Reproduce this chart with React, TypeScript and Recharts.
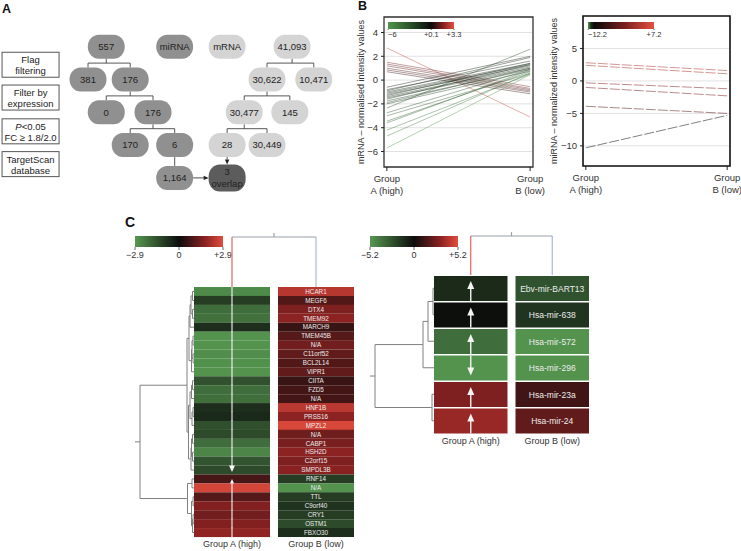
import React from "react";
import {
  Bar,
  BarChart,
  CartesianGrid,
  Cell,
  LabelList,
  Line,
  LineChart,
  ReferenceArea,
  ReferenceLine,
  Scatter,
  ScatterChart,
  XAxis,
  YAxis,
} from "recharts";

const FONT = '"Liberation Sans", Arial, Helvetica, sans-serif';
const INK = "#333";

// ---------- A: filtering flow ----------
const stepLines = [
  ["Flag", "filtering"],
  ["Filter by", "expression"],
  ["P<0.05", "FC ≥ 1.8/2.0"],
  ["TargetScan", "database"],
];
const stepRows = [0.55, 1.55, 2.58, 3.58];
const stepCol = -2.52;

const nodeLabels = ["557", "miRNA", "mRNA", "41,093", "381", "176", "30,622", "10,471", "0", "176", "30,477", "145", "170", "6", "28", "30,449", "1,164", "3 overlap"];
const nodeCols = [0.8, 3.8, 6.1, 8.95, 0, 1.85, 7.85, 9.9, 0.8, 2.85, 6.85, 8.85, 1.85, 3.8, 6.1, 7.85, 3.8, 6.1];
const nodeRows = [0, 0, 0, 0, 1, 1, 1, 1, 2, 2, 2, 2, 3, 3, 3, 3, 4, 4];
const nodeTones = ["mi", "mi", "m", "m", "mi", "mi", "m", "m", "mi", "mi", "m", "m", "mi", "mi", "m", "m", "mi", "both"];
const treeEdges: [number, number[]][] = [
  [0, [4, 5]],
  [5, [8, 9]],
  [9, [12, 13]],
  [13, [16]],
  [3, [6, 7]],
  [6, [10, 11]],
  [10, [14, 15]],
];
const arrowEdges: [number, number][] = [
  [16, 17],
  [14, 17],
];

// ---------- B: intensity lines ----------
const groupTickLines = [
  ["Group", "A (high)"],
  ["Group", "B (low)"],
];
const mrnaA = [2.7, 1.5, 1.35, 1.2, 1.0, 0.85, 0.7, -0.6, -0.8, -0.9, -1.0, -1.1, -1.2, -1.3, -1.4, -1.5, -1.6, -1.75, -1.9, -2.0, -2.35, -2.75, -3.0, -3.45, -3.6, -4.2, -4.7, -5.7];
const mrnaB = [-3.1, -0.55, -0.7, -0.8, -0.9, -1.0, -1.15, 2.0, 1.6, 1.9, 1.4, 1.3, 1.2, 1.4, 1.1, 1.0, 1.3, 0.9, 1.0, 0.75, 2.6, 0.9, 0.55, 0.7, 0.85, 0.5, 0.6, 0.45];
const mrnaTicks = [-6, -4, -2, 0, 2, 4];
const mrnaScaleTicks = [-6, 0.1, 3.3];

const mirnaA = [2.8, 2.4, -0.3, -1.0, -3.9, -10.3];
const mirnaB = [1.6, 1.1, -1.2, -2.3, -5.0, -5.3];
const mirnaTicks = [-10, -5, 0, 5];
const mirnaScaleTicks = [-12.2, 7.2];

// ---------- C: heatmaps ----------
const heatGroups = ["Group A (high)", "Group B (low)"];
const geneNames = ["HCAR1", "MEGF6", "DTX4", "TMEM92", "MARCH9", "TMEM45B", "N/A", "C11orf52", "BCL2L14", "VIPR1", "CIITA", "FZD5", "N/A", "HNF1B", "PRSS16", "MPZL2", "N/A", "CABP1", "HSH2D", "C2orf15", "SMPDL3B", "RNF14", "N/A", "TTL", "C9orf40", "CRY1", "OSTM1", "FBXO30"];
const geneA = [-2.6, -1.0, -2.0, -2.1, -0.7, -2.8, -2.8, -2.7, -2.75, -2.8, -1.45, -2.0, -2.05, -0.7, -0.6, -1.4, -1.3, -2.0, -2.5, -1.5, -1.3, 0.8, 2.7, 1.0, 1.6, 1.4, 1.6, 1.8];
const geneB = [2.3, 0.95, 1.55, 1.75, 0.6, 1.0, 1.4, 1.15, 0.95, 1.15, 0.6, 0.75, 0.75, 2.35, 1.75, 2.75, 1.35, 1.5, 1.75, 1.55, 1.7, -1.0, -2.8, -1.0, -0.8, -1.0, -1.3, -0.7];
const geneArrows = ["line", "line", "line", "line", "line", "line", "line", "line", "line", "line", "line", "line", "line", "line", "line", "line", "line", "line", "line", "line", "down", "up", "line", "line", "line", "line", "line", "line"];
const geneMax = 2.9;
const geneMerges: [number, number, number][] = [
  [0, 1, 1.5], [2, 3, 1.5], [28, 29, 3], [30, 4, 4],
  [5, 6, 1], [7, 8, 1], [32, 33, 2], [34, 9, 2.5], [31, 35, 5],
  [10, 11, 1.5], [37, 12, 2.5], [13, 14, 1], [39, 15, 2], [38, 40, 4],
  [16, 17, 1.5], [18, 19, 1.5], [42, 43, 2.5], [44, 20, 3], [41, 45, 5.5], [36, 46, 7],
  [21, 22, 2], [23, 24, 1], [25, 26, 1], [50, 27, 1.5], [49, 51, 2.5], [48, 52, 6.5],
  [47, 53, 54],
];

const mirNames = ["Ebv-mir-BART13", "Hsa-mir-638", "Hsa-mir-572", "Hsa-mir-296", "Hsa-mir-23a", "Hsa-mir-24"];
const mirA = [-1.1, -0.1, -3.6, -5.0, 2.8, 3.4];
const mirB = [-2.6, -1.5, -5.0, -5.0, 1.3, 2.1];
const mirArrows = ["up", "up", "up", "down", "up", "up"];
const mirMax = 5.2;
const mirMerges: [number, number, number][] = [
  [0, 1, 1], [6, 2, 6], [7, 3, 11], [4, 5, 2], [8, 9, 59],
];

// colour scales
type RGB = [number, number, number];
type Stop = [number, RGB];
const heatStops: Stop[] = [[0, [86, 152, 80]], [0.5, [12, 12, 12]], [0.8, [140, 34, 34]], [1, [226, 76, 62]]];
const mrnaStops: Stop[] = [[0, [80, 150, 75]], [0.35, [40, 80, 40]], [0.656, [10, 10, 10]], [0.85, [140, 35, 35]], [1, [228, 80, 64]]];
const mirnaStops: Stop[] = [[0, [80, 150, 75]], [0.05, [25, 40, 25]], [0.1, [10, 10, 10]], [0.55, [120, 30, 30]], [1, [228, 80, 64]]];

function sample(stops: Stop[], t: number) {
  const u = Math.max(0, Math.min(1, t));
  for (let i = 1; i < stops.length; i++) {
    if (u <= stops[i][0]) {
      const [o0, c0] = stops[i - 1];
      const [o1, c1] = stops[i];
      const f = (u - o0) / (o1 - o0 || 1);
      const c = c0.map((v, k) => Math.round(v + (c1[k] - v) * f));
      return `rgb(${c[0]},${c[1]},${c[2]})`;
    }
  }
  return `rgb(${stops[stops.length - 1][1].join(",")})`;
}
const heatColor = (v: number, max: number) => sample(heatStops, (v + max) / (2 * max));
const signed = (v: number) => (v < 0 ? `−${Math.abs(v)}` : v > 0 ? `+${v}` : "0");
const minus = (v: number) => (v < 0 ? `−${Math.abs(v)}` : `${v}`);

// ---------- pieces ----------
function FlowNode(props: any) {
  const { cx, cy, payload } = props;
  const fill = payload.tone === "mi" ? "#909090" : payload.tone === "m" ? "#d4d4d4" : "#5c5c5c";
  const h = payload.tone === "both" ? 27 : 24;
  const parts = String(payload.label).split(" ");
  return (
    <g>
      <rect x={cx - 18.5} y={cy - h / 2} width={37} height={h} rx={11} ry={12} fill={fill} />
      {parts.length === 1 ? (
        <text x={cx} y={cy + 3.4} textAnchor="middle" fontSize={9.5} fill="#222">{parts[0]}</text>
      ) : (
        <text textAnchor="middle" fontSize={9.5} fill="#222">
          <tspan x={cx} y={cy - 3}>{parts[0]}</tspan>
          <tspan x={cx} y={cy + 9}>{parts[1]}</tspan>
        </text>
      )}
    </g>
  );
}

function StepBox(props: any) {
  const { cx, cy, payload } = props;
  const line = (s: string, y: number) =>
    s.startsWith("P<") ? (
      <tspan x={cx} y={y}>
        <tspan fontStyle="italic">P</tspan>
        {s.slice(1)}
      </tspan>
    ) : (
      <tspan x={cx} y={y}>{s}</tspan>
    );
  return (
    <g>
      <rect x={cx - 28.5} y={cy - 12.5} width={57} height={25} fill="#fff" stroke="#555" strokeWidth={1} />
      <text textAnchor="middle" fontSize={9.5} fill="#222">
        {line(payload.lines[0], cy - 1.6)}
        {line(payload.lines[1], cy + 9.4)}
      </text>
    </g>
  );
}

function ArrowLine(props: any) {
  const { x1, y1, x2, y2 } = props;
  const ang = Math.atan2(y2 - y1, x2 - x1);
  const L = 5;
  const W = 2.2;
  const bx = x2 - L * Math.cos(ang);
  const by = y2 - L * Math.sin(ang);
  const px = -Math.sin(ang) * W;
  const py = Math.cos(ang) * W;
  return (
    <g>
      <line x1={x1} y1={y1} x2={bx} y2={by} stroke="#333" strokeWidth={0.9} />
      <polygon points={`${x2},${y2} ${bx + px},${by + py} ${bx - px},${by - py}`} fill="#222" />
    </g>
  );
}

function FlowPanel() {
  const halfH = 12 / 32.8;
  const halfW = 18.5 / 22.8;
  const nodes = nodeLabels.map((label, i) => ({ x: nodeCols[i], y: nodeRows[i], label, tone: nodeTones[i] }));
  const steps = stepLines.map((lines, i) => ({ x: stepCol, y: stepRows[i], lines }));
  const segs: { x1: number; y1: number; x2: number; y2: number }[] = [];
  treeEdges.forEach(([p, kids]) => {
    const px = nodeCols[p];
    const pr = nodeRows[p];
    if (kids.length === 1) {
      segs.push({ x1: px, y1: pr + halfH, x2: nodeCols[kids[0]], y2: nodeRows[kids[0]] - halfH });
      return;
    }
    const mid = pr + 0.5;
    const xs = kids.map((k) => nodeCols[k]);
    segs.push({ x1: px, y1: pr + halfH, x2: px, y2: mid });
    segs.push({ x1: Math.min(...xs), y1: mid, x2: Math.max(...xs), y2: mid });
    kids.forEach((k) => segs.push({ x1: nodeCols[k], y1: mid, x2: nodeCols[k], y2: nodeRows[k] - halfH }));
  });
  const arrows = arrowEdges.map(([a, b]) =>
    nodeRows[a] === nodeRows[b]
      ? { x1: nodeCols[a] + halfW, y1: nodeRows[a], x2: nodeCols[b] - halfW, y2: nodeRows[b] }
      : { x1: nodeCols[a], y1: nodeRows[a] + halfH, x2: nodeCols[b], y2: nodeRows[b] - 13.5 / 32.8 }
  );
  return (
    <div style={{ position: "absolute", left: 0, top: 0 }}>
      <ScatterChart width={340} height={200} margin={{ top: 0, right: 0, bottom: 0, left: 0 }}>
        <XAxis type="number" dataKey="x" domain={[-3.86, 11.05]} allowDataOverflow hide />
        <YAxis type="number" dataKey="y" domain={[-1.424, 4.674]} allowDataOverflow reversed hide />
        {segs.map((s, i) => (
          <ReferenceLine key={`s${i}`} segment={[{ x: s.x1, y: s.y1 }, { x: s.x2, y: s.y2 }]} stroke="#444" strokeWidth={0.9} ifOverflow="visible" />
        ))}
        {arrows.map((s, i) => (
          <ReferenceLine key={`a${i}`} segment={[{ x: s.x1, y: s.y1 }, { x: s.x2, y: s.y2 }]} ifOverflow="visible" shape={(p: any) => <ArrowLine {...p} />} />
        ))}
        <Scatter data={steps} isAnimationActive={false} shape={(p: any) => <StepBox {...p} />} />
        <Scatter data={nodes} isAnimationActive={false} shape={(p: any) => <FlowNode {...p} />} />
      </ScatterChart>
    </div>
  );
}

function ScaleTick(props: any) {
  const { x, y, payload, index, fontSize, startFirst } = props;
  return (
    <text x={x} y={y + fontSize * 0.78} textAnchor={startFirst && index === 0 ? "start" : "middle"} fontSize={fontSize} fill={INK}>
      {signed(payload.value)}
    </text>
  );
}

function ColorBar(props: {
  id: string;
  left: number;
  top: number;
  width: number;
  barH: number;
  domain: [number, number];
  ticks: number[];
  stops: Stop[];
  fontSize: number;
  tickSize: number;
  startFirst?: boolean;
}) {
  const { id, left, top, width, barH, domain, ticks, stops, fontSize, tickSize, startFirst } = props;
  const pad = 18;
  const axisH = tickSize + fontSize + 4;
  return (
    <div style={{ position: "absolute", left: left - pad, top }}>
      <BarChart
        width={width + 2 * pad}
        height={barH + axisH}
        layout="vertical"
        data={[{ k: "scale", span: domain }]}
        margin={{ top: 0, right: pad, bottom: 0, left: pad }}
        barCategoryGap={0}
      >
        <defs>
          <linearGradient id={id} x1="0" y1="0" x2="1" y2="0">
            {stops.map(([o, c]) => (
              <stop key={o} offset={o} stopColor={`rgb(${c.join(",")})`} />
            ))}
          </linearGradient>
        </defs>
        <XAxis
          type="number"
          domain={domain}
          allowDataOverflow
          ticks={ticks}
          interval={0}
          height={axisH}
          axisLine={false}
          tickSize={tickSize}
          tickMargin={1}
          tickLine={{ stroke: "#666" }}
          tick={(p: any) => <ScaleTick {...p} fontSize={fontSize} startFirst={startFirst} />}
        />
        <YAxis type="category" dataKey="k" hide />
        <Bar dataKey="span" fill={`url(#${id})`} isAnimationActive={false} />
      </BarChart>
    </div>
  );
}

function GroupTick(props: any) {
  const { x, y, payload } = props;
  const lines = groupTickLines[payload.value > 0.5 ? 1 : 0];
  return (
    <text textAnchor="middle" fontSize={9.5} fill={INK}>
      <tspan x={x} y={y + 9}>{lines[0]}</tspan>
      <tspan x={x} y={y + 21}>{lines[1]}</tspan>
    </text>
  );
}

function YTitle(props: any) {
  const vb = props.viewBox ?? { x: 0, y: 0, width: 0, height: 0 };
  const x = vb.x + props.dx;
  const y = vb.y + vb.height / 2;
  return (
    <text x={x} y={y} transform={`rotate(-90 ${x} ${y})`} textAnchor="middle" fontSize={9} fill={INK}>
      {props.text}
    </text>
  );
}

function PairChart(props: {
  left: number;
  width: number;
  top: number;
  bottom: number;
  right: number;
  yWidth: number;
  a: number[];
  b: number[];
  domain: [number, number];
  ticks: number[];
  stops: Stop[];
  scale: [number, number];
  title: string;
  titleDx: number;
  dash?: string;
  frame: string;
  frameW: number;
  lineOpacity: number;
}) {
  const { left, width, top, bottom, right, yWidth, a, b, domain, ticks, stops, scale, title, titleDx, dash, frame, frameW, lineOpacity } = props;
  const rows = [0, 1].map((g) => {
    const r: Record<string, number> = { g };
    (g === 0 ? a : b).forEach((v, i) => (r[`s${i}`] = v));
    return r;
  });
  const xd: [number, number] = [-0.02, 1.02];
  return (
    <div style={{ position: "absolute", left, top: 0 }}>
      <LineChart width={width} height={200} data={rows} margin={{ top, right, bottom: 0, left: 0 }}>
        <CartesianGrid vertical={false} stroke="#e2e2e2" />
        <XAxis
          dataKey="g"
          type="number"
          domain={xd}
          allowDataOverflow
          ticks={[0, 1]}
          interval={0}
          tick={<GroupTick />}
          tickSize={4}
          tickMargin={2}
          tickLine={{ stroke: "#222" }}
          axisLine={false}
          height={bottom}
        />
        <YAxis
          type="number"
          domain={domain}
          allowDataOverflow
          ticks={ticks}
          interval={0}
          width={yWidth}
          axisLine={false}
          tickSize={3}
          tickMargin={3}
          tickLine={{ stroke: "#222" }}
          tick={{ fontSize: 9.5, fill: INK }}
          tickFormatter={minus}
          label={<YTitle text={title} dx={titleDx} />}
        />
        <ReferenceArea x1={xd[0]} x2={xd[1]} y1={domain[0]} y2={domain[1]} fill="none" stroke={frame} strokeWidth={frameW} ifOverflow="visible" />
        {a.map((v, i) => (
          <Line
            key={i}
            dataKey={`s${i}`}
            stroke={sample(stops, (v - scale[0]) / (scale[1] - scale[0]))}
            strokeWidth={0.7}
            strokeOpacity={lineOpacity}
            strokeDasharray={dash}
            dot={false}
            isAnimationActive={false}
          />
        ))}
      </LineChart>
    </div>
  );
}

function ArrowCell(props: any) {
  const { x, y, width, height, payload, max, head, lineW, insetDown, insetUp, ext } = props;
  const cx = x + width / 2;
  const top = y;
  const bot = y + height;
  const [hw, hh] = head;
  const white = "#f4f4f4";
  let mark: React.ReactNode = null;
  if (payload.arrow === "line") {
    mark = <line x1={cx} x2={cx} y1={top - ext} y2={bot + ext} stroke={white} strokeWidth={lineW} />;
  } else if (payload.arrow === "down") {
    const tip = bot - insetDown;
    mark = (
      <g>
        <line x1={cx} x2={cx} y1={top - ext} y2={tip - hh + 0.5} stroke={white} strokeWidth={lineW} />
        <polygon points={`${cx - hw / 2},${tip - hh} ${cx + hw / 2},${tip - hh} ${cx},${tip}`} fill={white} />
      </g>
    );
  } else if (payload.arrow === "up") {
    const tip = top + insetUp;
    mark = (
      <g>
        <line x1={cx} x2={cx} y1={tip + hh - 0.5} y2={bot + ext} stroke={white} strokeWidth={lineW} />
        <polygon points={`${cx - hw / 2},${tip + hh} ${cx + hw / 2},${tip + hh} ${cx},${tip}`} fill={white} />
      </g>
    );
  }
  return (
    <g>
      <rect x={x} y={y} width={width} height={height} fill={heatColor(payload.va, max)} />
      {mark}
    </g>
  );
}

function NameLabel(props: any) {
  const { x, y, width, height, value, fontSize } = props;
  return (
    <text x={x + width / 2} y={y + height / 2 + fontSize * 0.36} textAnchor="middle" fontSize={fontSize} fill="#ececec">
      {value}
    </text>
  );
}

function Heatmap(props: {
  left: number;
  top: number;
  width: number;
  rowsH: number;
  names: string[];
  a: number[];
  b: number[];
  arrows: string[];
  max: number;
  gap: number;
  catGap: number;
  nameSize: number;
  head: [number, number];
  lineW: number;
  insetDown: number;
  insetUp: number;
  ext: number;
}) {
  const { left, top, width, rowsH, names, a, b, arrows, max, gap, catGap, nameSize, head, lineW, insetDown, insetUp, ext } = props;
  const data = names.map((name, i) => ({ row: `r${i}`, name, a: 1, gap, b: 1, va: a[i], vb: b[i], arrow: arrows[i] }));
  return (
    <div style={{ position: "absolute", left, top }}>
      <BarChart width={width} height={rowsH + 20} layout="vertical" data={data} margin={{ top: 0, right: 0, bottom: 0, left: 0 }} barCategoryGap={catGap}>
        <XAxis
          type="number"
          domain={[0, 2 + gap]}
          allowDataOverflow
          ticks={[0.5, 1.5 + gap]}
          interval={0}
          tickFormatter={(v: number) => heatGroups[v < 1 ? 0 : 1]}
          axisLine={false}
          tickLine={false}
          tickSize={0}
          tickMargin={4}
          height={20}
          tick={{ fontSize: 9, fill: INK }}
        />
        <YAxis type="category" dataKey="row" hide />
        <Bar
          dataKey="a"
          stackId="h"
          isAnimationActive={false}
          shape={(p: any) => <ArrowCell {...p} max={max} head={head} lineW={lineW} insetDown={insetDown} insetUp={insetUp} ext={ext} />}
        />
        <Bar dataKey="gap" stackId="h" fill="none" isAnimationActive={false} />
        <Bar dataKey="b" stackId="h" isAnimationActive={false}>
          {data.map((d) => (
            <Cell key={d.row} fill={heatColor(d.vb, max)} />
          ))}
          <LabelList dataKey="name" content={(p: any) => <NameLabel {...p} fontSize={nameSize} />} />
        </Bar>
      </BarChart>
    </div>
  );
}

function treeSegments(merges: [number, number, number][], leafPos: number[], stub: number) {
  const pos = [...leafPos];
  const hgt = leafPos.map(() => 0);
  const segs: { p1: number; h1: number; p2: number; h2: number; from: number }[] = [];
  merges.forEach(([a, b, h]) => {
    segs.push({ p1: pos[a], h1: hgt[a], p2: pos[a], h2: h, from: a });
    segs.push({ p1: pos[b], h1: hgt[b], p2: pos[b], h2: h, from: b });
    segs.push({ p1: pos[a], h1: h, p2: pos[b], h2: h, from: -1 });
    pos.push((pos[a] + pos[b]) / 2);
    hgt.push(h);
  });
  const r = pos.length - 1;
  segs.push({ p1: pos[r], h1: hgt[r], p2: pos[r], h2: hgt[r] + stub, from: -1 });
  return segs;
}

function RowTree(props: { left: number; top: number; width: number; height: number; merges: [number, number, number][]; leaves: number; hMax: number; stub: number }) {
  const { left, top, width, height, merges, leaves, hMax, stub } = props;
  const leafPos = Array.from({ length: leaves }, (_, i) => i + 0.5);
  const segs = treeSegments(merges, leafPos, stub);
  return (
    <div style={{ position: "absolute", left, top }}>
      <ScatterChart width={width} height={height} margin={{ top: 0, right: 0, bottom: 0, left: 0 }}>
        <XAxis type="number" dataKey="h" domain={[0, hMax]} allowDataOverflow reversed hide />
        <YAxis type="number" dataKey="p" domain={[0, leaves]} allowDataOverflow reversed hide />
        <Scatter data={leafPos.map((p) => ({ h: 0, p }))} isAnimationActive={false} shape={() => <g />} />
        {segs.map((s, i) => (
          <ReferenceLine key={i} segment={[{ x: s.h1, y: s.p1 }, { x: s.h2, y: s.p2 }]} stroke="#808080" strokeWidth={1} ifOverflow="visible" />
        ))}
      </ScatterChart>
    </div>
  );
}

function ColTree(props: { left: number; top: number; width: number; height: number; gap: number; hTop: number; stub: number }) {
  const { left, top, width, height, gap, hTop, stub } = props;
  const leafPos = [0.5, 1.5 + gap];
  const segs = treeSegments([[0, 1, 1]], leafPos, stub);
  const leafColors = ["#e2645a", "#a9bad8"];
  return (
    <div style={{ position: "absolute", left, top }}>
      <ScatterChart width={width} height={height} margin={{ top: 0, right: 0, bottom: 0, left: 0 }}>
        <XAxis type="number" dataKey="p" domain={[0, 2 + gap]} allowDataOverflow hide />
        <YAxis type="number" dataKey="h" domain={[0, hTop]} allowDataOverflow hide />
        <Scatter data={leafPos.map((p) => ({ h: 0, p }))} isAnimationActive={false} shape={() => <g />} />
        {segs.map((s, i) => (
          <ReferenceLine
            key={i}
            segment={[{ x: s.p1, y: s.h1 }, { x: s.p2, y: s.h2 }]}
            stroke={s.from >= 0 ? leafColors[s.from] : "#9aa2ae"}
            strokeWidth={1.2}
            ifOverflow="visible"
          />
        ))}
      </ScatterChart>
    </div>
  );
}

const letter = (ch: string, left: number, top: number, size: number) => (
  <div style={{ position: "absolute", left, top, fontSize: size, fontWeight: 700, lineHeight: `${size + 2}px`, color: "#111" }}>{ch}</div>
);

export default function App() {
  const gapL = 8 / 76;
  const gapR = 8 / 73.5;
  return (
    <div style={{ position: "absolute", left: 0, top: 0, width: 741, height: 551, background: "#fff", fontFamily: FONT, overflow: "hidden" }}>
      <FlowPanel />

      <PairChart
        left={330}
        width={230}
        top={17}
        bottom={33}
        right={27}
        yWidth={54}
        a={mrnaA}
        b={mrnaB}
        domain={[-7.3, 5.3]}
        ticks={mrnaTicks}
        stops={mrnaStops}
        scale={[-6, 3.3]}
        title="mRNA – normalised intensity values"
        titleDx={34}
        frame="#333"
        frameW={1.3}
        lineOpacity={0.6}
      />
      <PairChart
        left={540}
        width={201}
        top={16}
        bottom={34}
        right={11}
        yWidth={43}
        a={mirnaA}
        b={mirnaB}
        domain={[-13.1, 10]}
        ticks={mirnaTicks}
        stops={mirnaStops}
        scale={[-12.2, 7.2]}
        title="miRNA – normalized intensity values"
        titleDx={16.5}
        dash="10 2"
        frame="#111"
        frameW={1.6}
        lineOpacity={0.75}
      />
      <ColorBar id="gMrna" left={388} top={22} width={66} barH={7} domain={[-6, 3.3]} ticks={mrnaScaleTicks} stops={mrnaStops} fontSize={7.5} tickSize={1} startFirst />
      <ColorBar id="gMirna" left={588} top={22} width={66} barH={7} domain={[-12.2, 7.2]} ticks={mirnaScaleTicks} stops={mirnaStops} fontSize={7.5} tickSize={1} startFirst />

      <ColorBar id="gHeatL" left={135} top={236} width={88} barH={11} domain={[-geneMax, geneMax]} ticks={[-geneMax, 0, geneMax]} stops={heatStops} fontSize={9} tickSize={3} />
      <ColorBar id="gHeatR" left={370} top={236} width={88} barH={11} domain={[-mirMax, mirMax]} ticks={[-mirMax, 0, mirMax]} stops={heatStops} fontSize={9} tickSize={3} />

      <ColTree left={194} top={228} width={160} height={59} gap={gapL} hTop={1.18} stub={0.08} />
      <ColTree left={434} top={228} width={155} height={47} gap={gapR} hTop={1.205} stub={0.1} />

      <RowTree left={130} top={287} width={64} height={250} merges={geneMerges} leaves={28} hMax={64} stub={5} />
      <RowTree left={365} top={275} width={69} height={159} merges={mirMerges} leaves={6} hMax={69} stub={5} />

      <Heatmap
        left={194}
        top={287}
        width={160}
        rowsH={250}
        names={geneNames}
        a={geneA}
        b={geneB}
        arrows={geneArrows}
        max={geneMax}
        gap={gapL}
        catGap={0}
        nameSize={6.3}
        head={[6, 6.5]}
        lineW={1.1}
        insetDown={2.5}
        insetUp={4.5}
        ext={0.6}
      />
      <Heatmap
        left={434}
        top={275}
        width={155}
        rowsH={159}
        names={mirNames}
        a={mirA}
        b={mirB}
        arrows={mirArrows}
        max={mirMax}
        gap={gapR}
        catGap={1}
        nameSize={8.5}
        head={[7, 8]}
        lineW={1.4}
        insetDown={5}
        insetUp={5}
        ext={0}
      />

      {letter("A", 2, 2, 12.5)}
      {letter("B", 358, -1, 12.5)}
      {letter("C", 125, 214, 14)}
    </div>
  );
}
